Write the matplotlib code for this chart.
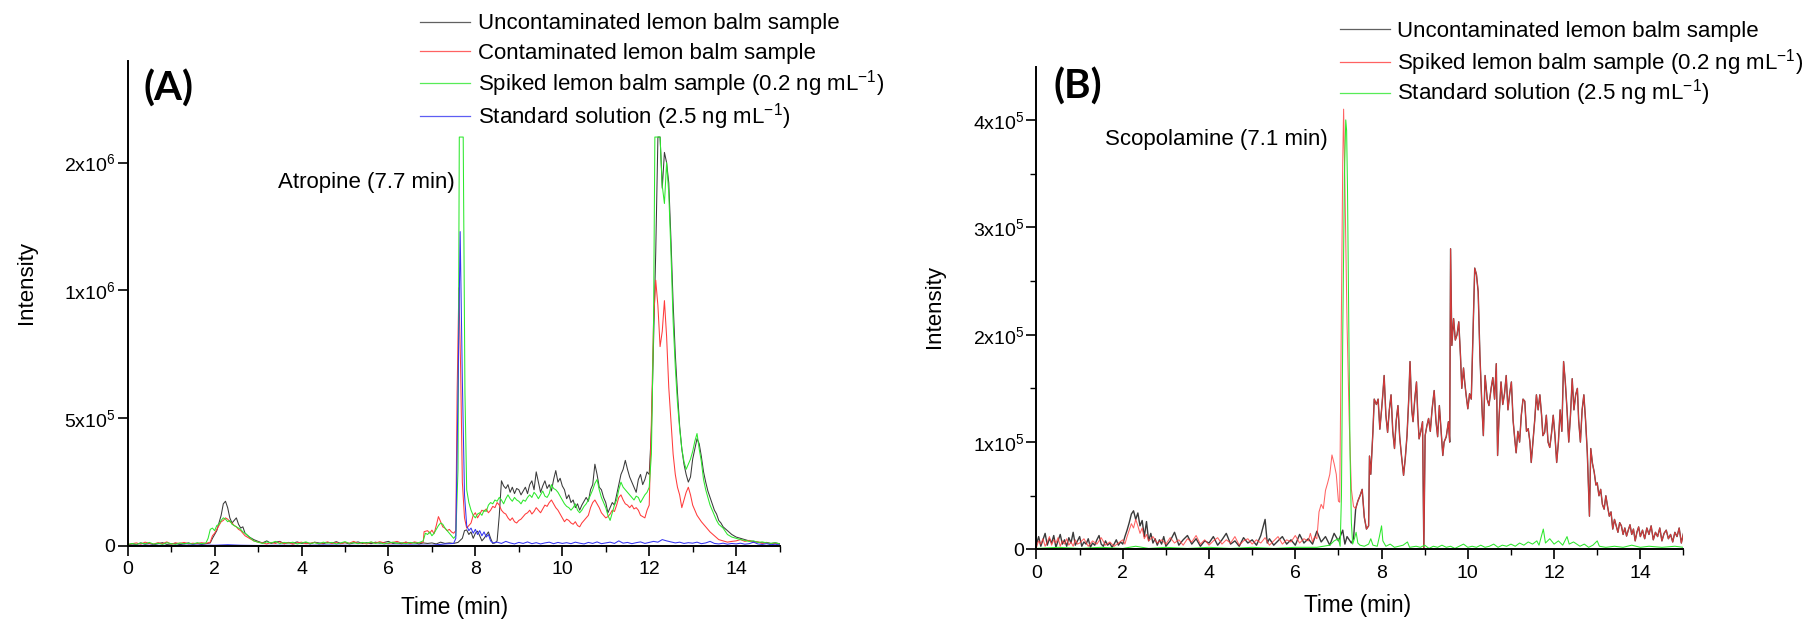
import numpy as np
import matplotlib
matplotlib.use("Agg")
import matplotlib.pyplot as plt
from matplotlib.lines import Line2D
from matplotlib.ticker import MultipleLocator, FixedLocator, FixedFormatter

plt.rcParams['font.family'] = ['Liberation Sans', 'DejaVu Sans']
plt.rcParams['mathtext.fontset'] = 'custom'
plt.rcParams['mathtext.rm'] = 'Liberation Sans'
plt.rcParams['mathtext.it'] = 'Liberation Sans:italic'
plt.rcParams['mathtext.bf'] = 'Liberation Sans:bold'
plt.rcParams['mathtext.default'] = 'regular'

# ---------------- Panel A : atropine (intensity in units of 1e6) ----------------
A_labels = ["Uncontaminated lemon balm sample",
            "Contaminated lemon balm sample",
            "Spiked lemon balm sample (0.2 ng mL$^{-1}$)",
            "Standard solution (2.5 ng mL$^{-1}$)"]
A_ytick_labels = ["0", "5x10$^5$", "1x10$^6$", "2x10$^6$"]
A_annotation = "Atropine (7.7 min)"

A_uncontaminated = [
    (0.0,0.004),(0.1,0.008),(0.2,0.006),(0.3,0.012),(0.4,0.007),(0.5,0.010),(0.6,0.005),(0.7,0.009),
    (0.8,0.013),(0.9,0.006),(1.0,0.008),(1.1,0.011),(1.2,0.005),(1.3,0.009),(1.4,0.012),(1.5,0.007),
    (1.6,0.010),(1.7,0.006),(1.8,0.009),(1.9,0.012),(1.95,0.030),(2.05,0.060),(2.1,0.090),(2.15,0.120),
    (2.2,0.165),(2.25,0.175),(2.3,0.150),(2.35,0.110),(2.4,0.090),(2.45,0.100),(2.5,0.110),(2.55,0.085),
    (2.6,0.070),(2.65,0.075),(2.7,0.050),(2.8,0.035),(2.9,0.025),(3.0,0.018),
    (3.1,0.012),(3.2,0.020),(3.3,0.010),(3.4,0.015),(3.5,0.018),(3.6,0.009),(3.7,0.014),(3.8,0.011),
    (3.9,0.016),(4.0,0.010),(4.1,0.013),(4.2,0.008),(4.3,0.015),(4.4,0.012),(4.5,0.009),(4.6,0.014),
    (4.7,0.011),(4.8,0.017),(4.9,0.010),(5.0,0.013),(5.1,0.008),(5.2,0.012),(5.3,0.016),(5.4,0.010),
    (5.5,0.013),(5.6,0.009),(5.7,0.015),(5.8,0.011),(5.9,0.014),(6.0,0.018),(6.1,0.010),(6.2,0.012),
    (6.3,0.009),(6.4,0.015),(6.5,0.011),(6.6,0.013),(6.7,0.008),(6.8,0.012),
    (6.9,0.010),(7.0,0.012),(7.1,0.008),(7.2,0.015),(7.3,0.010),(7.4,0.012),(7.5,0.010),(7.6,0.014),
    (7.7,0.030),(7.75,0.060),(7.8,0.063),(7.85,0.045),(7.9,0.055),(7.95,0.030),(8.0,0.050),(8.05,0.058),
    (8.1,0.040),(8.15,0.020),(8.2,0.030),(8.3,0.055),(8.35,0.030),(8.4,0.010),(8.45,0.012),(8.5,0.020),
    (8.55,0.120),(8.6,0.255),(8.65,0.235),(8.7,0.225),(8.75,0.240),(8.8,0.210),(8.85,0.230),(8.9,0.205),
    (8.95,0.225),(9.0,0.220),(9.05,0.200),(9.1,0.215),(9.15,0.230),(9.2,0.205),(9.25,0.240),(9.3,0.255),
    (9.35,0.220),(9.4,0.290),(9.45,0.250),(9.5,0.210),(9.55,0.235),(9.6,0.255),(9.65,0.225),(9.7,0.240),
    (9.75,0.215),(9.8,0.260),(9.85,0.295),(9.9,0.250),(9.95,0.265),(10.0,0.235),(10.05,0.220),(10.1,0.185),
    (10.15,0.200),(10.2,0.170),(10.25,0.180),(10.3,0.150),(10.35,0.165),(10.4,0.140),(10.45,0.160),
    (10.5,0.175),(10.55,0.190),(10.6,0.175),(10.65,0.220),(10.7,0.240),(10.75,0.320),(10.8,0.280),
    (10.85,0.230),(10.9,0.220),(10.95,0.190),(11.0,0.170),(11.05,0.130),(11.1,0.150),(11.15,0.170),
    (11.2,0.160),(11.25,0.200),(11.3,0.240),(11.35,0.280),(11.4,0.300),(11.45,0.335),(11.5,0.300),
    (11.55,0.270),(11.6,0.250),(11.65,0.230),(11.7,0.210),(11.75,0.260),(11.8,0.280),(11.85,0.240),
    (11.9,0.260),(11.95,0.290),(12.0,0.280),(12.05,0.450),(12.1,0.800),(12.15,1.150),(12.2,1.600),
    (12.25,1.600),(12.3,1.400),(12.35,1.540),(12.4,1.500),(12.45,1.420),(12.5,1.200),(12.55,0.950),
    (12.6,0.750),(12.65,0.600),(12.7,0.470),(12.75,0.380),(12.8,0.320),(12.85,0.280),(12.9,0.250),
    (12.95,0.270),(13.0,0.340),(13.05,0.380),(13.1,0.420),(13.15,0.400),(13.2,0.350),(13.25,0.290),
    (13.3,0.250),(13.35,0.215),(13.4,0.190),(13.45,0.165),(13.5,0.140),(13.55,0.125),(13.6,0.100),
    (13.65,0.090),(13.7,0.075),(13.8,0.060),(13.9,0.045),(14.0,0.035),(14.1,0.030),(14.2,0.025),
    (14.3,0.020),(14.4,0.018),(14.5,0.015),(14.6,0.012),(14.7,0.014),(14.8,0.010),(14.9,0.012),(15.0,0.009)]

A_contaminated = [
    (0.0,0.006),(0.1,0.009),(0.2,0.012),(0.3,0.007),(0.4,0.015),(0.5,0.010),(0.6,0.008),(0.7,0.013),
    (0.8,0.009),(0.9,0.016),(1.0,0.007),(1.1,0.012),(1.2,0.010),(1.3,0.014),(1.4,0.008),(1.5,0.011),
    (1.6,0.009),(1.7,0.013),(1.8,0.010),(1.9,0.015),(1.95,0.040),(2.0,0.050),(2.05,0.065),(2.1,0.080),
    (2.15,0.095),(2.2,0.100),(2.25,0.110),(2.3,0.105),(2.35,0.095),(2.4,0.090),(2.45,0.080),(2.5,0.075),
    (2.55,0.065),(2.6,0.060),(2.7,0.040),(2.8,0.030),(2.9,0.020),(3.0,0.015),
    (3.1,0.012),(3.2,0.008),(3.3,0.014),(3.4,0.010),(3.5,0.016),(3.6,0.009),(3.7,0.013),(3.8,0.007),
    (3.9,0.012),(4.0,0.015),(4.1,0.009),(4.2,0.011),(4.3,0.014),(4.4,0.008),(4.5,0.012),(4.6,0.016),
    (4.7,0.010),(4.8,0.013),(4.9,0.009),(5.0,0.014),(5.1,0.011),(5.2,0.018),(5.3,0.010),(5.4,0.013),
    (5.5,0.008),(5.6,0.015),(5.7,0.011),(5.8,0.017),(5.9,0.012),(6.0,0.009),(6.1,0.014),(6.2,0.018),
    (6.3,0.011),(6.4,0.015),(6.5,0.010),(6.6,0.016),(6.7,0.012),
    (6.8,0.015),(6.82,0.056),(6.9,0.060),(6.95,0.050),(7.0,0.062),(7.05,0.048),(7.1,0.080),(7.15,0.115),
    (7.2,0.095),(7.25,0.075),(7.3,0.070),(7.35,0.060),(7.4,0.065),(7.45,0.055),(7.5,0.050),(7.55,0.060),
    (7.58,0.600),(7.62,1.010),(7.66,0.700),(7.7,0.250),(7.75,0.110),(7.8,0.070),(7.85,0.080),(7.9,0.090),
    (7.95,0.120),(8.0,0.130),(8.05,0.110),(8.1,0.125),(8.15,0.140),(8.2,0.135),(8.25,0.145),(8.3,0.130),
    (8.35,0.140),(8.4,0.155),(8.45,0.150),(8.5,0.170),(8.55,0.160),(8.6,0.140),(8.65,0.130),(8.7,0.125),
    (8.75,0.110),(8.8,0.100),(8.85,0.110),(8.9,0.095),(8.95,0.090),(9.0,0.100),(9.05,0.105),(9.1,0.115),
    (9.15,0.125),(9.2,0.130),(9.25,0.140),(9.3,0.125),(9.35,0.135),(9.4,0.150),(9.45,0.140),(9.5,0.130),
    (9.55,0.145),(9.6,0.160),(9.65,0.155),(9.7,0.170),(9.75,0.180),(9.8,0.165),(9.85,0.150),(9.9,0.140),
    (9.95,0.125),(10.0,0.110),(10.05,0.095),(10.1,0.105),(10.15,0.100),(10.2,0.090),(10.25,0.085),
    (10.3,0.095),(10.35,0.080),(10.4,0.075),(10.45,0.090),(10.5,0.100),(10.55,0.110),(10.6,0.120),
    (10.65,0.150),(10.7,0.170),(10.75,0.180),(10.8,0.165),(10.85,0.150),(10.9,0.130),(10.95,0.120),
    (11.0,0.110),(11.05,0.115),(11.1,0.125),(11.15,0.140),(11.2,0.135),(11.25,0.160),(11.3,0.190),
    (11.35,0.200),(11.4,0.180),(11.45,0.165),(11.5,0.160),(11.55,0.150),(11.6,0.160),(11.65,0.145),
    (11.7,0.150),(11.75,0.140),(11.8,0.120),(11.85,0.115),(11.9,0.110),(11.95,0.140),(12.0,0.160),
    (12.05,0.490),(12.1,0.880),(12.15,1.040),(12.2,0.940),(12.25,0.780),(12.3,0.840),(12.35,0.960),
    (12.4,0.820),(12.45,0.620),(12.5,0.490),(12.55,0.360),(12.6,0.280),(12.65,0.230),(12.7,0.200),
    (12.75,0.150),(12.8,0.180),(12.85,0.210),(12.9,0.230),(12.95,0.200),(13.0,0.160),(13.05,0.140),
    (13.1,0.120),(13.2,0.095),(13.3,0.075),(13.4,0.055),(13.5,0.040),(13.6,0.025),(13.7,0.020),
    (13.8,0.015),(13.9,0.018),(14.0,0.020),(14.1,0.025),(14.2,0.018),(14.3,0.022),(14.4,0.014),
    (14.5,0.016),(14.6,0.010),(14.7,0.012),(14.8,0.008),(14.9,0.010),(15.0,0.007)]

A_spiked = [
    (0.0,0.005),(0.1,0.010),(0.2,0.006),(0.3,0.012),(0.4,0.008),(0.5,0.014),(0.6,0.007),(0.7,0.011),
    (0.8,0.006),(0.9,0.013),(1.0,0.009),(1.1,0.006),(1.2,0.012),(1.3,0.008),(1.4,0.011),(1.5,0.007),
    (1.6,0.013),(1.7,0.009),(1.8,0.012),(1.85,0.030),(1.9,0.065),(1.95,0.070),(2.0,0.060),(2.05,0.080),
    (2.1,0.085),(2.15,0.100),(2.2,0.110),(2.25,0.105),(2.3,0.095),(2.35,0.100),(2.4,0.085),(2.45,0.080),
    (2.5,0.075),(2.55,0.070),(2.6,0.065),(2.65,0.055),(2.7,0.050),(2.8,0.035),(2.9,0.020),(3.0,0.015),
    (3.1,0.010),(3.2,0.016),(3.3,0.012),(3.4,0.018),(3.5,0.009),(3.6,0.014),(3.7,0.011),(3.8,0.015),
    (3.9,0.008),(4.0,0.012),(4.1,0.016),(4.2,0.010),(4.3,0.013),(4.4,0.009),(4.5,0.015),(4.6,0.011),
    (4.7,0.014),(4.8,0.008),(4.9,0.012),(5.0,0.017),(5.1,0.010),(5.2,0.013),(5.3,0.009),(5.4,0.014),
    (5.5,0.011),(5.6,0.016),(5.7,0.010),(5.8,0.013),(5.9,0.008),(6.0,0.012),(6.1,0.015),(6.2,0.010),
    (6.3,0.013),(6.4,0.009),(6.5,0.014),(6.6,0.011),(6.7,0.013),(6.8,0.020),(6.85,0.050),(6.9,0.045),
    (6.95,0.055),(7.0,0.040),(7.05,0.050),(7.1,0.065),(7.15,0.080),(7.2,0.090),(7.25,0.085),(7.3,0.070),
    (7.35,0.060),(7.4,0.050),(7.45,0.040),(7.5,0.030),(7.55,0.040),(7.6,0.300),(7.63,1.600),(7.72,1.600),
    (7.76,0.600),(7.8,0.220),(7.85,0.170),(7.9,0.140),(7.95,0.120),(8.0,0.110),(8.05,0.125),(8.1,0.130),
    (8.15,0.120),(8.2,0.140),(8.25,0.135),(8.3,0.160),(8.35,0.170),(8.4,0.165),(8.45,0.180),(8.5,0.175),
    (8.55,0.190),(8.6,0.180),(8.65,0.165),(8.7,0.185),(8.75,0.200),(8.8,0.185),(8.85,0.175),(8.9,0.190),
    (8.95,0.180),(9.0,0.175),(9.05,0.165),(9.1,0.180),(9.15,0.175),(9.2,0.190),(9.25,0.200),(9.3,0.190),
    (9.35,0.210),(9.4,0.200),(9.45,0.185),(9.5,0.200),(9.55,0.215),(9.6,0.195),(9.65,0.190),(9.7,0.205),
    (9.75,0.240),(9.8,0.225),(9.85,0.220),(9.9,0.210),(9.95,0.195),(10.0,0.180),(10.05,0.165),
    (10.1,0.155),(10.15,0.150),(10.2,0.140),(10.25,0.150),(10.3,0.165),(10.35,0.140),(10.4,0.130),
    (10.45,0.140),(10.5,0.155),(10.55,0.165),(10.6,0.180),(10.65,0.200),(10.7,0.220),(10.75,0.245),
    (10.8,0.260),(10.85,0.220),(10.9,0.190),(10.95,0.170),(11.0,0.150),(11.05,0.120),(11.1,0.100),
    (11.15,0.130),(11.2,0.160),(11.25,0.180),(11.3,0.220),(11.35,0.250),(11.4,0.230),(11.45,0.220),
    (11.5,0.210),(11.55,0.200),(11.6,0.190),(11.65,0.180),(11.7,0.195),(11.75,0.190),(11.8,0.170),
    (11.85,0.185),(11.9,0.200),(11.95,0.210),(12.0,0.230),(12.05,0.360),(12.1,0.880),(12.13,1.600),
    (12.25,1.600),(12.3,1.410),(12.35,1.340),(12.4,1.500),(12.45,1.380),(12.5,1.150),(12.55,0.880),
    (12.6,0.700),(12.65,0.560),(12.7,0.460),(12.75,0.380),(12.8,0.330),(12.85,0.300),(12.9,0.320),
    (12.95,0.340),(13.0,0.370),(13.05,0.410),(13.1,0.440),(13.15,0.380),(13.2,0.330),(13.25,0.260),
    (13.3,0.220),(13.35,0.190),(13.4,0.160),(13.45,0.140),(13.5,0.120),(13.55,0.100),(13.6,0.085),
    (13.7,0.070),(13.8,0.045),(13.9,0.035),(14.0,0.030),(14.1,0.025),(14.2,0.022),(14.3,0.018),
    (14.4,0.020),(14.5,0.014),(14.6,0.016),(14.7,0.012),(14.8,0.010),(14.9,0.013),(15.0,0.008)]

A_standard = [
    (0.0,0.002),(0.5,0.003),(1.0,0.002),(1.5,0.004),(2.0,0.003),(2.3,0.005),(2.6,0.003),(3.0,0.002),
    (3.5,0.003),(4.0,0.002),(4.5,0.004),(5.0,0.003),(5.5,0.002),(6.0,0.003),(6.5,0.004),(7.0,0.003),
    (7.3,0.008),(7.5,0.010),(7.55,0.030),(7.6,0.600),(7.65,1.230),(7.7,0.650),(7.75,0.200),(7.8,0.080),
    (7.85,0.060),(7.9,0.070),(7.95,0.050),(8.0,0.065),(8.05,0.045),(8.1,0.060),(8.15,0.040),(8.2,0.055),
    (8.25,0.035),(8.3,0.045),(8.35,0.020),(8.4,0.012),(8.5,0.015),(8.6,0.010),(8.7,0.018),(8.8,0.012),
    (8.9,0.008),(9.0,0.014),(9.1,0.010),(9.2,0.016),(9.3,0.009),(9.4,0.013),(9.5,0.008),(9.6,0.012),
    (9.7,0.015),(9.8,0.009),(9.9,0.014),(10.0,0.010),(10.1,0.013),(10.2,0.009),(10.3,0.015),(10.4,0.011),
    (10.5,0.008),(10.6,0.014),(10.7,0.010),(10.8,0.016),(10.9,0.009),(11.0,0.012),(11.1,0.015),
    (11.2,0.010),(11.3,0.020),(11.4,0.011),(11.5,0.014),(11.6,0.009),(11.7,0.013),(11.8,0.016),
    (11.9,0.010),(12.0,0.014),(12.1,0.018),(12.2,0.015),(12.3,0.025),(12.4,0.020),(12.5,0.016),
    (12.6,0.012),(12.7,0.015),(12.8,0.010),(12.9,0.013),(13.0,0.011),(13.1,0.015),(13.2,0.009),
    (13.3,0.012),(13.4,0.018),(13.5,0.010),(13.6,0.008),(13.7,0.011),(13.8,0.007),(13.9,0.010),
    (14.0,0.008),(14.1,0.011),(14.2,0.007),(14.3,0.009),(14.4,0.015),(14.5,0.008),(14.6,0.006),
    (14.7,0.009),(14.8,0.005),(14.9,0.007),(15.0,0.004)]

# ---------------- Panel B : scopolamine (intensity in units of 1e5) ----------------
B_labels = ["Uncontaminated lemon balm sample",
            "Spiked lemon balm sample (0.2 ng mL$^{-1}$)",
            "Standard solution (2.5 ng mL$^{-1}$)"]
B_ytick_labels = ["0", "1x10$^5$", "2x10$^5$", "3x10$^5$", "4x10$^5$"]
B_annotation = "Scopolamine (7.1 min)"

B_uncontaminated_early = [
    (0.0,0.05),(0.05,0.12),(0.1,0.03),(0.15,0.09),(0.2,0.15),(0.25,0.04),(0.3,0.10),(0.35,0.06),
    (0.4,0.13),(0.45,0.02),(0.5,0.08),(0.55,0.14),(0.6,0.05),(0.65,0.09),(0.7,0.03),(0.75,0.11),
    (0.8,0.06),(0.85,0.16),(0.9,0.04),(0.95,0.08),(1.0,0.12),(1.05,0.03),(1.1,0.07),(1.15,0.05),
    (1.2,0.10),(1.25,0.02),(1.3,0.06),(1.35,0.04),(1.4,0.09),(1.45,0.13),(1.5,0.05),(1.55,0.03),
    (1.6,0.08),(1.65,0.04),(1.7,0.06),(1.75,0.02),(1.8,0.05),(1.85,0.09),(1.9,0.04),(1.95,0.07),
    (2.0,0.05),(2.05,0.12),(2.1,0.18),(2.15,0.25),(2.2,0.33),(2.25,0.36),(2.3,0.28),(2.35,0.34),
    (2.4,0.22),(2.45,0.27),(2.5,0.12),(2.55,0.26),(2.6,0.08),(2.65,0.15),(2.7,0.06),(2.75,0.10),
    (2.8,0.04),(2.85,0.09),(2.9,0.05),(2.95,0.12),(3.0,0.03),(3.1,0.08),(3.2,0.16),(3.3,0.04),
    (3.4,0.09),(3.5,0.13),(3.6,0.05),(3.7,0.10),(3.8,0.03),(3.9,0.08),(4.0,0.06),(4.1,0.12),
    (4.2,0.04),(4.3,0.09),(4.4,0.15),(4.5,0.05),(4.6,0.08),(4.7,0.03),(4.8,0.11),(4.9,0.06),
    (5.0,0.09),(5.1,0.04),(5.2,0.13),(5.3,0.28),(5.35,0.06),(5.4,0.10),(5.5,0.04),(5.6,0.08),
    (5.7,0.12),(5.8,0.05),(5.9,0.09),(6.0,0.04),(6.1,0.14),(6.2,0.06),(6.3,0.10),(6.4,0.05),
    (6.5,0.17),(6.6,0.07),(6.7,0.12),(6.8,0.04),(6.9,0.15),(7.0,0.08),(7.1,0.18),(7.15,0.05),
    (7.2,0.12),(7.3,0.06),(7.35,0.10),(7.4,0.38)]

B_spiked_early = [
    (0.0,0.02),(0.05,0.08),(0.1,0.05),(0.15,0.10),(0.2,0.03),(0.25,0.07),(0.3,0.12),(0.35,0.04),
    (0.4,0.09),(0.45,0.06),(0.5,0.11),(0.55,0.03),(0.6,0.08),(0.65,0.05),(0.7,0.10),(0.75,0.04),
    (0.8,0.07),(0.85,0.03),(0.9,0.09),(0.95,0.05),(1.0,0.06),(1.1,0.10),(1.2,0.03),(1.3,0.08),
    (1.4,0.05),(1.5,0.11),(1.6,0.04),(1.7,0.07),(1.8,0.03),(1.9,0.06),(2.0,0.09),(2.05,0.05),
    (2.1,0.12),(2.15,0.18),(2.2,0.24),(2.25,0.20),(2.3,0.28),(2.35,0.22),(2.4,0.15),(2.45,0.20),
    (2.5,0.10),(2.55,0.14),(2.6,0.08),(2.7,0.12),(2.8,0.06),(2.9,0.09),(3.0,0.05),(3.1,0.11),
    (3.2,0.06),(3.3,0.09),(3.4,0.04),(3.5,0.10),(3.6,0.07),(3.7,0.13),(3.8,0.05),(3.9,0.09),
    (4.0,0.04),(4.1,0.08),(4.2,0.11),(4.3,0.05),(4.4,0.09),(4.5,0.06),(4.6,0.12),(4.7,0.04),
    (4.8,0.08),(4.9,0.10),(5.0,0.05),(5.1,0.09),(5.2,0.06),(5.3,0.11),(5.4,0.04),(5.5,0.08),
    (5.6,0.12),(5.7,0.05),(5.8,0.09),(5.9,0.07),(6.0,0.13),(6.1,0.06),(6.2,0.10),(6.3,0.08),
    (6.35,0.15),(6.4,0.07),(6.45,0.12),(6.5,0.10),(6.55,0.35),(6.6,0.42),(6.65,0.38),(6.7,0.55),
    (6.75,0.62),(6.8,0.70),(6.85,0.88),(6.9,0.80),(6.95,0.70),(7.0,0.45),(7.03,0.44),(7.06,1.80),
    (7.1,3.60),(7.12,4.10),(7.15,3.40),(7.2,2.10),(7.25,1.20),(7.3,0.56),(7.35,0.40),(7.4,0.38)]

# Region where the uncontaminated and spiked traces coincide
B_common_late = [
    (7.45,0.45),(7.5,0.50),(7.55,0.56),(7.6,0.30),(7.65,0.19),(7.7,0.22),(7.72,0.87),(7.75,0.70),
    (7.8,1.10),(7.83,1.40),(7.88,1.35),(7.92,1.40),(7.96,1.12),(8.0,1.30),(8.03,1.45),(8.06,1.62),
    (8.1,1.25),(8.14,1.09),(8.18,1.30),(8.22,1.44),(8.26,1.10),(8.3,0.94),(8.34,1.20),(8.38,1.34),
    (8.42,1.05),(8.46,0.88),(8.51,0.69),(8.55,0.85),(8.59,1.06),(8.63,1.40),(8.66,1.75),(8.7,1.30),
    (8.73,1.19),(8.77,1.40),(8.81,1.56),(8.84,1.25),(8.87,1.03),(8.91,1.10),(8.95,1.19),(8.98,0.00),
    (9.01,1.06),(9.05,1.15),(9.09,1.22),(9.13,1.10),(9.17,1.30),(9.22,1.48),(9.26,1.20),(9.3,1.05),
    (9.34,1.34),(9.38,1.10),(9.42,0.875),(9.45,1.00),(9.5,1.05),(9.55,1.19),(9.58,1.00),(9.6,2.80),
    (9.63,1.90),(9.67,2.15),(9.71,1.95),(9.75,2.00),(9.79,2.12),(9.83,1.80),(9.86,1.50),(9.9,1.69),
    (9.93,1.55),(9.96,1.44),(10.0,1.31),(10.04,1.45),(10.08,1.40),(10.12,2.00),(10.16,2.62),(10.2,2.56),
    (10.24,2.40),(10.28,1.81),(10.33,1.30),(10.36,1.06),(10.4,1.62),(10.45,1.40),(10.49,1.34),
    (10.54,1.50),(10.58,1.60),(10.62,1.40),(10.66,1.73),(10.69,0.875),(10.72,1.20),(10.77,1.56),
    (10.81,1.35),(10.85,1.45),(10.89,1.62),(10.93,1.30),(10.97,1.45),(11.01,1.56),(11.05,1.20),
    (11.09,1.02),(11.12,0.90),(11.16,1.10),(11.2,1.00),(11.24,1.25),(11.28,1.40),(11.32,1.38),
    (11.36,1.10),(11.4,1.125),(11.44,1.00),(11.47,0.81),(11.51,1.00),(11.55,1.20),(11.59,1.44),
    (11.63,1.30),(11.67,1.44),(11.71,1.25),(11.74,1.06),(11.78,1.09),(11.82,1.25),(11.86,1.00),
    (11.9,0.95),(11.94,1.08),(11.98,1.25),(12.02,1.06),(12.06,0.81),(12.1,1.00),(12.14,1.30),
    (12.18,1.10),(12.22,1.75),(12.26,1.56),(12.3,1.30),(12.34,1.00),(12.38,1.25),(12.42,1.59),
    (12.46,1.30),(12.5,1.44),(12.54,1.50),(12.57,1.20),(12.61,1.00),(12.65,1.30),(12.69,1.44),
    (12.73,1.20),(12.77,0.90),(12.82,0.31),(12.85,0.94),(12.89,0.80),(12.93,0.72),(12.97,0.60),
    (13.0,0.62),(13.04,0.50),(13.08,0.56),(13.12,0.42),(13.16,0.375),(13.2,0.50),(13.24,0.40),
    (13.28,0.31),(13.32,0.35),(13.36,0.19),(13.4,0.28),(13.44,0.22),(13.48,0.16),(13.52,0.25),
    (13.56,0.22),(13.6,0.14),(13.64,0.20),(13.68,0.125),(13.72,0.18),(13.76,0.23),(13.8,0.14),
    (13.84,0.19),(13.88,0.08),(13.92,0.16),(13.96,0.21),(14.0,0.12),(14.05,0.18),(14.1,0.10),
    (14.15,0.20),(14.2,0.14),(14.25,0.22),(14.3,0.09),(14.35,0.16),(14.4,0.12),(14.45,0.20),
    (14.5,0.08),(14.55,0.15),(14.6,0.18),(14.65,0.10),(14.7,0.14),(14.75,0.07),(14.8,0.16),
    (14.85,0.12),(14.9,0.20),(14.95,0.06),(15.0,0.15)]

B_standard = [
    (0.0,0.01),(0.5,0.02),(1.0,0.01),(1.5,0.02),(2.0,0.01),(2.3,0.03),(2.6,0.01),(3.0,0.02),
    (3.5,0.01),(4.0,0.02),(4.5,0.01),(5.0,0.02),(5.5,0.01),(6.0,0.02),(6.5,0.02),(6.8,0.04),
    (6.9,0.08),(7.0,0.10),(7.04,0.03),(7.07,0.50),(7.1,2.00),(7.14,3.50),(7.17,4.00),(7.19,3.90),
    (7.21,3.37),(7.24,2.10),(7.27,0.87),(7.3,0.25),(7.33,0.05),(7.37,0.10),(7.41,0.16),(7.45,0.06),
    (7.5,0.04),(7.6,0.03),(7.7,0.05),(7.75,0.10),(7.8,0.04),(7.9,0.03),(7.95,0.12),(8.0,0.22),
    (8.03,0.08),(8.1,0.03),(8.2,0.05),(8.3,0.02),(8.4,0.03),(8.5,0.04),(8.6,0.07),(8.65,0.02),
    (8.8,0.03),(8.9,0.02),(9.0,0.04),(9.1,0.01),(9.2,0.03),(9.3,0.02),(9.4,0.04),(9.5,0.02),
    (9.6,0.03),(9.7,0.01),(9.8,0.03),(9.9,0.05),(10.0,0.02),(10.1,0.03),(10.2,0.02),(10.3,0.04),
    (10.4,0.02),(10.5,0.03),(10.6,0.05),(10.7,0.02),(10.8,0.04),(10.9,0.03),(11.0,0.05),(11.1,0.03),
    (11.2,0.06),(11.3,0.04),(11.4,0.07),(11.5,0.05),(11.6,0.08),(11.65,0.04),(11.75,0.19),(11.8,0.06),
    (11.9,0.10),(12.0,0.05),(12.1,0.08),(12.2,0.04),(12.3,0.12),(12.35,0.05),(12.45,0.07),(12.6,0.03),
    (12.7,0.05),(12.8,0.02),(12.9,0.04),(13.0,0.08),(13.05,0.03),(13.2,0.02),(13.4,0.03),(13.6,0.02),
    (13.8,0.04),(14.0,0.02),(14.2,0.03),(14.5,0.02),(14.8,0.03),(15.0,0.02)]

x_label = "Time (min)"
y_label = "Intensity"

C_BLACK = "#3a3a3a"
C_RED = "#ff3b3b"
C_GREEN = "#2de82d"
C_BLUE = "#3535f0"

FS_TEXT = 16
W, H = 1807.0, 622.0


def unzip(pairs, scale):
    t = np.array([p[0] for p in pairs])
    v = np.array([p[1] for p in pairs]) * scale
    return t, v


def style_axes(ax):
    for s in ("top", "right"):
        ax.spines[s].set_visible(False)
    for s in ("left", "bottom"):
        ax.spines[s].set_linewidth(1.4)
    ax.tick_params(which="major", direction="out", length=7, width=1.2, labelsize=14)
    ax.tick_params(which="minor", direction="out", length=4, width=1.0)
    ax.tick_params(axis="x", which="major", pad=4)
    ax.tick_params(axis="y", which="major", pad=2)
    ax.set_xlim(0, 15)
    ax.xaxis.set_major_locator(MultipleLocator(2))
    ax.xaxis.set_minor_locator(MultipleLocator(1))


def manual_legend(lines, labels, x_line0, x_line1, x_text, rows_px):
    """Legend drawn row by row in figure pixel positions (colours from the plotted lines)."""
    for ln, lab, ypx in zip(lines, labels, rows_px):
        yf = 1 - ypx / H
        fig.add_artist(Line2D([x_line0 / W, x_line1 / W], [yf, yf], transform=fig.transFigure,
                              color=ln.get_color(), lw=0.9, alpha=0.8))
        fig.text(x_text / W, 1 - (ypx + 7.5) / H, lab, ha="left", va="baseline",
                 fontsize=FS_TEXT)


fig = plt.figure(figsize=(18.07, 6.22), dpi=100)

# ---------------- Panel A ----------------
axA = fig.add_axes([0.07067, 0.1222, 0.36076, 0.7797])
style_axes(axA)
lA = []
for pairs, col in ((A_uncontaminated, C_BLACK), (A_contaminated, C_RED),
                   (A_spiked, C_GREEN), (A_standard, C_BLUE)):
    t, v = unzip(pairs, 1e6)
    lA.append(axA.plot(t, v, color=col, lw=0.75)[0])
axA.set_ylim(0, 1.8975e6)
axA.yaxis.set_major_locator(FixedLocator([0, 0.5e6, 1.0e6, 1.5e6]))
axA.yaxis.set_major_formatter(FixedFormatter(A_ytick_labels))
axA.text(5.50, 1.424e6, A_annotation, ha="center", va="center", fontsize=FS_TEXT)
fig.text(0.0932, 0.858, "(A)", ha="center", va="center",
         fontsize=29, fontweight="bold", family=["Lato", "DejaVu Sans"])
fig.text(0.0149, 0.5458, y_label, rotation=90, ha="center", va="center", fontsize=FS_TEXT)
fig.text(0.2515, 0.0241, x_label, ha="center", va="center", fontsize=16.3)
manual_legend(lA, A_labels, 420, 470, 478, [21.5, 51.0, 83.0, 115.5])

# ---------------- Panel B ----------------
axB = fig.add_axes([0.5736, 0.1166, 0.35805, 0.7749])
style_axes(axB)
tb, vb = unzip(B_uncontaminated_early + B_common_late, 1e5)
tr, vr = unzip(B_spiked_early + B_common_late, 1e5)
tg, vg = unzip(B_standard, 1e5)
lB0 = axB.plot(tb, vb, color=C_BLACK, lw=1.0)[0]
lB1 = axB.plot(tr, vr, color=C_RED, lw=0.75, alpha=0.8)[0]
lB2 = axB.plot(tg, vg, color=C_GREEN, lw=0.75)[0]
axB.set_ylim(0, 4.488e5)
axB.yaxis.set_major_locator(FixedLocator([0, 1e5, 2e5, 3e5, 4e5]))
axB.yaxis.set_major_formatter(FixedFormatter(B_ytick_labels))
axB.yaxis.set_minor_locator(MultipleLocator(0.5e5))
axB.text(4.16, 3.82e5, B_annotation, ha="center", va="center", fontsize=FS_TEXT)
fig.text(0.5965, 0.860, "(B)", ha="center", va="center",
         fontsize=29, fontweight="bold", family=["Lato", "DejaVu Sans"])
fig.text(0.5172, 0.5072, y_label, rotation=90, ha="center", va="center", fontsize=FS_TEXT)
fig.text(0.7515, 0.0263, x_label, ha="center", va="center", fontsize=16.3)
manual_legend([lB0, lB1, lB2], B_labels, 1340, 1390, 1397, [29.0, 61.5, 92.5])

fig.savefig("out.png", dpi=100)
